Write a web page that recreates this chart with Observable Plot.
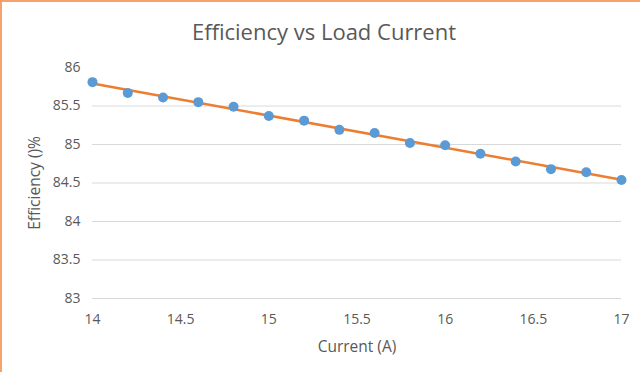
<!DOCTYPE html>
<html>
<head>
<meta charset="utf-8">
<script src="https://cdn.jsdelivr.net/npm/d3@7"></script>
<script src="https://cdn.jsdelivr.net/npm/@observablehq/plot@0.6"></script>
<style>
  html, body { margin: 0; padding: 0; background: #fff; }
  #wrap {
    position: relative; width: 638px; height: 370px;
    border-left: 2px solid #F4A46A; border-top: 2px solid #F4A46A;
    font-family: "Open Sans", sans-serif; overflow: hidden;
  }
  #title {
    height: 46px; line-height: 58px; text-align: center;
    font-size: 22px; color: #595959; padding-left: 6px;
  }
</style>
</head>
<body>
<div id="wrap">
  <div id="title">Efficiency vs Load Current</div>
  <div id="chart"></div>
</div>
<script>
const current = [14, 14.2, 14.4, 14.6, 14.8, 15, 15.2, 15.4, 15.6, 15.8, 16, 16.2, 16.4, 16.6, 16.8, 17];
const efficiency = [85.81, 85.67, 85.61, 85.55, 85.49, 85.37, 85.31, 85.19, 85.15, 85.02, 84.99, 84.88, 84.78, 84.68, 84.64, 84.54];
const xTicks = [14, 14.5, 15, 15.5, 16, 16.5, 17];
const yTicks = [83, 83.5, 84, 84.5, 85, 85.5, 86];
const yGrid = [83, 83.5, 84, 84.5, 85, 85.5];
const title = "Efficiency vs Load Current";
const xLabel = "Current (A)";
const yLabel = "Efficiency ()%";

const data = current.map((c, i) => ({current: c, efficiency: efficiency[i]}));
const grey = "#595959";
const fmt = d => String(d);

const chart = Plot.plot({
  width: 638,
  height: 324,
  marginTop: 19,
  marginBottom: 74,
  marginLeft: 90,
  marginRight: 19,
  style: {fontFamily: "Open Sans, sans-serif", fontSize: "14px", color: grey, background: "transparent"},
  x: {domain: [14, 17]},
  y: {domain: [83, 86]},
  marks: [
    Plot.gridY(yGrid, {stroke: "#d9d9d9", strokeOpacity: 1, strokeWidth: 1}),
    Plot.axisY(yTicks, {tickSize: 0, tickPadding: 12, label: null, fill: grey, fontSize: 14, tickFormat: fmt}),
    Plot.axisX(xTicks, {tickSize: 0, tickPadding: 16, label: null, fill: grey, fontSize: 14, tickFormat: fmt}),
    Plot.text([xLabel], {frameAnchor: "bottom", dy: 49, lineAnchor: "middle", textAnchor: "middle", fill: grey, fontSize: 15.5}),
    Plot.text([yLabel], {frameAnchor: "left", dx: -57, rotate: -90, lineAnchor: "middle", textAnchor: "middle", fill: grey, fontSize: 15.5}),
    Plot.linearRegressionY(data, {x: "current", y: "efficiency", stroke: "#ED7D31", strokeWidth: 2.5, ci: 0}),
    Plot.dot(data, {x: "current", y: "efficiency", r: 5, fill: "#5B9BD5", stroke: null})
  ]
});
document.getElementById("chart").appendChild(chart);
</script>
</body>
</html>
